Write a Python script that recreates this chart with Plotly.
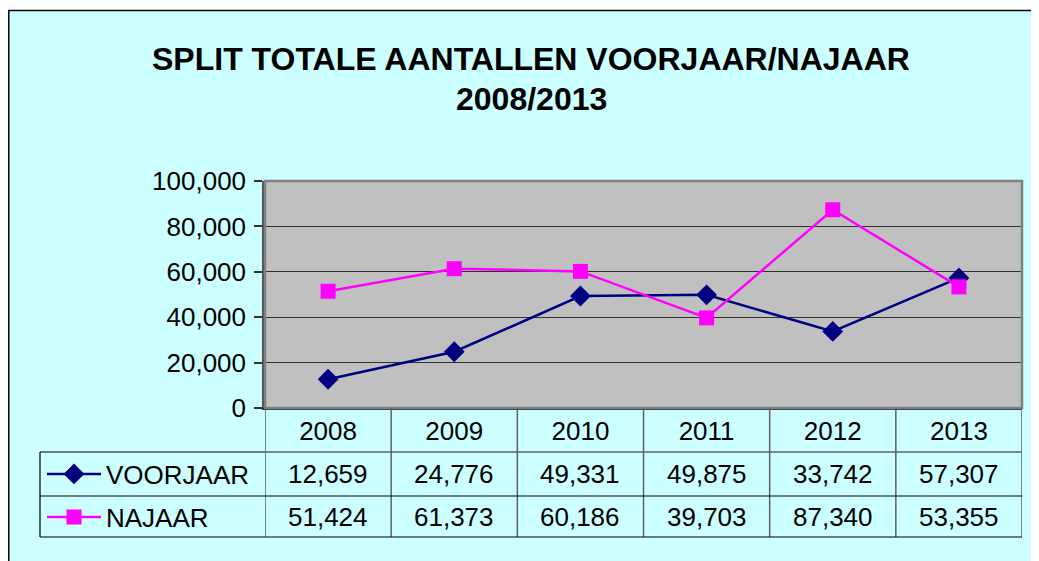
import plotly.graph_objects as go

years = ["2008", "2009", "2010", "2011", "2012", "2013"]
voorjaar = [12659, 24776, 49331, 49875, 33742, 57307]
najaar = [51424, 61373, 60186, 39703, 87340, 53355]
series_names = ["VOORJAAR", "NAJAAR"]
y_ticks = [0, 20000, 40000, 60000, 80000, 100000]
title_line1 = "SPLIT TOTALE AANTALLEN VOORJAAR/NAJAAR"
title_line2 = "2008/2013"

# page has an 8px body margin; figure fills the rest of the 1039x561 window
OFF = 8
W, H = 1039 - OFF, 561 - OFF
FONT = "Arial, Liberation Sans, sans-serif"
NAVY = "#000080"
MAGENTA = "#FF00FF"
CYAN = "#CCFFFF"


def px(x):
    return (x - OFF) / W


def py(y):
    return 1 - (y - OFF) / H


fig = go.Figure()
fig.add_trace(go.Scatter(
    x=years, y=voorjaar, name=series_names[0], mode="lines+markers",
    line=dict(color=NAVY, width=2.5),
    marker=dict(symbol="diamond", size=16, color=NAVY),
    legend="legend", cliponaxis=False,
))
fig.add_trace(go.Scatter(
    x=years, y=najaar, name=series_names[1], mode="lines+markers",
    line=dict(color=MAGENTA, width=2.5),
    marker=dict(symbol="square", size=15, color=MAGENTA),
    legend="legend2", cliponaxis=False,
))

shapes = []
# white strip and black border of the chart frame
shapes.append(dict(type="rect", xref="paper", yref="paper", x0=0, x1=1, y0=py(10), y1=1,
                   fillcolor="white", line=dict(width=0), layer="above"))
shapes.append(dict(type="line", xref="paper", yref="paper", x0=px(8), x1=1, y0=py(10.5), y1=py(10.5),
                   line=dict(color="black", width=1.5), layer="above"))
shapes.append(dict(type="line", xref="paper", yref="paper", x0=px(8.8), x1=px(8.8), y0=0, y1=py(10),
                   line=dict(color="black", width=1.5), layer="above"))
# plot area border
shapes.append(dict(type="rect", xref="x domain", yref="y domain", x0=0, x1=1, y0=0, y1=1,
                   line=dict(color="#808080", width=2.5), layer="above"))

# table lines
GREY = "#606060"
n = len(years)
for i in range(n + 1):
    shapes.append(dict(type="line", xref="x", yref="paper", x0=i - 0.5, x1=i - 0.5,
                       y0=py(408), y1=py(537), line=dict(color=GREY, width=1.5)))
shapes.append(dict(type="line", xref="paper", yref="paper", x0=px(40), x1=px(265),
                   y0=py(452), y1=py(452), line=dict(color="black", width=1.2)))
shapes.append(dict(type="line", xref="x", yref="paper", x0=-0.5, x1=n - 0.5,
                   y0=py(452), y1=py(452), line=dict(color=GREY, width=1.5)))
for yy in (496, 537):
    shapes.append(dict(type="line", xref="paper", yref="paper", x0=px(40), x1=px(265),
                       y0=py(yy), y1=py(yy), line=dict(color="black", width=1.2)))
    shapes.append(dict(type="line", xref="x", yref="paper", x0=-0.5, x1=n - 0.5,
                       y0=py(yy), y1=py(yy), line=dict(color="black", width=1.2)))
shapes.append(dict(type="line", xref="paper", yref="paper", x0=px(40), x1=px(40),
                   y0=py(452), y1=py(537), line=dict(color="black", width=1.2)))

annotations = []
row_y = [474, 517]
for vals, ry in zip([voorjaar, najaar], row_y):
    for i, v in enumerate(vals):
        annotations.append(dict(x=i, y=py(ry), xref="x", yref="paper", text=f"{v:,}",
                                showarrow=False, yanchor="middle", xanchor="center",
                                font=dict(family=FONT, size=26, color="black")))
annotations.append(dict(x=px(531), y=py(59), xref="paper", yref="paper", text=f"<b>{title_line1}</b>",
                        showarrow=False, yanchor="middle", xanchor="center",
                        font=dict(family=FONT, size=32, color="black")))
annotations.append(dict(x=px(531), y=py(99), xref="paper", yref="paper", text=f"<b>{title_line2}</b>",
                        showarrow=False, yanchor="middle", xanchor="center",
                        font=dict(family=FONT, size=32, color="black")))

fig.update_layout(
    width=W, height=H,
    margin=dict(l=0, r=0, t=0, b=0, autoexpand=False),
    paper_bgcolor=CYAN,
    plot_bgcolor="#C0C0C0",
    font=dict(family=FONT, size=26, color="black"),
    shapes=shapes,
    annotations=annotations,
    xaxis=dict(domain=[px(265), px(1022)], type="category", range=[-0.5, n - 0.5],
               showgrid=False, ticks="", showline=True, linecolor="#303030", linewidth=1.5,
               tickfont=dict(family=FONT, size=26, color="black"), ticklabelstandoff=-1,
               zeroline=False, fixedrange=True, automargin=False),
    yaxis=dict(domain=[py(408), py(181)], range=[0, 100000], tickvals=y_ticks,
               tickformat=",d", showgrid=True, gridcolor="#303030", gridwidth=1,
               ticks="outside", ticklen=8, tickcolor="#303030", tickwidth=1.5,
               showline=True, linecolor="#505050", linewidth=2.5,
               tickfont=dict(family=FONT, size=26, color="black"), ticklabelstandoff=3,
               zeroline=False, fixedrange=True, automargin=False),
    legend=dict(x=px(42), y=py(474), xanchor="left", yanchor="middle", bgcolor="rgba(0,0,0,0)",
                font=dict(family=FONT, size=26, color="black"), itemwidth=54, borderwidth=0),
    legend2=dict(x=px(42), y=py(517), xanchor="left", yanchor="middle", bgcolor="rgba(0,0,0,0)",
                 font=dict(family=FONT, size=26, color="black"), itemwidth=54, borderwidth=0),
    showlegend=True,
)

fig.write_html("out.html", config={"displayModeBar": False})
